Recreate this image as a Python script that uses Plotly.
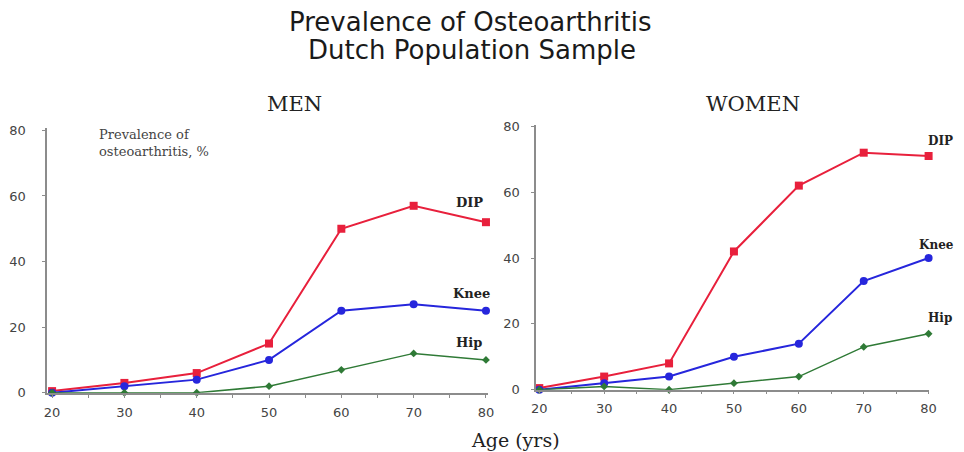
import plotly.graph_objects as go

ages = [20, 30, 40, 50, 60, 70, 80]
men_dip = [0.5, 3, 6, 15, 50, 57, 52]
men_knee = [0, 2, 4, 10, 25, 27, 25]
men_hip = [0, 0, 0, 2, 7, 12, 10]
women_dip = [0.5, 4, 8, 42, 62, 72, 71]
women_knee = [0, 2, 4, 10, 14, 33, 40]
women_hip = [0, 1, 0, 2, 4, 13, 17]
y_ticks = [0, 20, 40, 60, 80]
x_ticks = [20, 30, 40, 50, 60, 70, 80]
series_names = ["DIP", "Knee", "Hip"]

W, H = 964, 452
RED, BLUE, GREEN = "#e8203c", "#2626dc", "#2f7a36"
SERIF = "DejaVu Serif"
SANS = "DejaVu Sans"
AXC = "#8c8c8c"

# mapping from target-picture pixels to figure pixels (measured page framing)
AX, BX = 0.9885, 3.0
AY, BY = 0.964, 8.5
PAGE_OFF = 8


def fx(s):
    return (s - BX) / AX - PAGE_OFF


def fy(s):
    return (s - BY) / AY - PAGE_OFF


def px_x(s):
    return fx(s) / W


def px_y(s):
    return 1 - fy(s) / H


fig = go.Figure()
styles = [
    (RED, "square", 8, 2),
    (BLUE, "circle", 8, 2),
    (GREEN, "diamond", 6, 1.5),
]
for panel, data in (("", (men_dip, men_knee, men_hip)), ("2", (women_dip, women_knee, women_hip))):
    for name, vals, (col, sym, ms, lw) in zip(series_names, data, styles):
        fig.add_trace(go.Scatter(
            x=ages, y=vals, mode="lines+markers", name=name,
            line=dict(color=col, width=lw),
            marker=dict(color=col, symbol=sym, size=ms),
            xaxis="x" + panel, yaxis="y" + panel, showlegend=False,
            cliponaxis=False,
        ))

axis_common = dict(
    showgrid=False, zeroline=False, showline=True, linecolor=AXC, linewidth=1.5,
    ticks="outside", ticklen=3, tickcolor=AXC,
    tickfont=dict(family=SANS, size=13, color="#444444"),
)
minor = dict(dtick=5, ticks="outside", ticklen=3, tickcolor=AXC)

fig.update_layout(
    width=W, height=H,
    margin=dict(l=0, r=0, t=0, b=0),
    plot_bgcolor="white", paper_bgcolor="white",
    xaxis=dict(domain=[px_x(45), px_x(487)], range=[19.3, 80.3], tickvals=x_ticks,
               minor=minor, ticklabelstandoff=4, anchor="y", **axis_common),
    yaxis=dict(domain=[px_y(393), px_y(130)], range=[0, 80.6], tickvals=y_ticks,
               ticklabelstandoff=14, anchor="x", **axis_common),
    xaxis2=dict(domain=[px_x(535), px_x(929)], range=[19.5, 80.1], tickvals=x_ticks,
                minor=minor, ticklabelstandoff=3, anchor="y2", **axis_common),
    yaxis2=dict(domain=[px_y(390), px_y(127)], range=[0, 80.3], tickvals=y_ticks,
                ticklabelstandoff=9, anchor="x2", **axis_common),
)


def text_ann(text, x, y, family, size, color="#222222", xanchor="center", align="center"):
    return dict(text=text, x=px_x(x), y=px_y(y), xref="paper", yref="paper", showarrow=False,
                font=dict(family=family, size=size, color=color), xanchor=xanchor,
                yanchor="middle", align=align)


ann = [
    text_ann("Prevalence of Osteoarthritis", 469, 24, SANS, 26, "#1a1a1a"),
    text_ann("Dutch Population Sample", 471, 52, SANS, 26, "#1a1a1a"),
    text_ann("MEN", 293, 106, SERIF, 21),
    text_ann("WOMEN", 752, 106, SERIF, 21),
    text_ann("Age (yrs)", 514, 440, SERIF, 19),
    text_ann("Prevalence of<br>osteoarthritis, %", 95, 145, SERIF, 13, "#444444", "left", "left"),
]

men_end = [men_dip[-1], men_knee[-1], men_hip[-1]]
women_end = [women_dip[-1], women_knee[-1], women_hip[-1]]
men_shift = [20, 17, 17]
men_xshift = [-32, -35, -32]
women_shift = [15, 13, 16]
women_xshift = [-3, -12, -3]
for name, v, sh, xs in zip(series_names, men_end, men_shift, men_xshift):
    ann.append(dict(text="<b>%s</b>" % name, x=ages[-1], y=v, xref="x", yref="y", showarrow=False,
                    font=dict(family=SERIF, size=13, color="#222222"), xanchor="left",
                    xshift=xs, yshift=sh))
for name, v, sh, xs in zip(series_names, women_end, women_shift, women_xshift):
    ann.append(dict(text="<b>%s</b>" % name, x=ages[-1], y=v, xref="x2", yref="y2", showarrow=False,
                    font=dict(family=SERIF, size=12, color="#222222"), xanchor="left",
                    xshift=xs, yshift=sh))
fig.update_layout(annotations=ann)

fig.write_html("out.html")
